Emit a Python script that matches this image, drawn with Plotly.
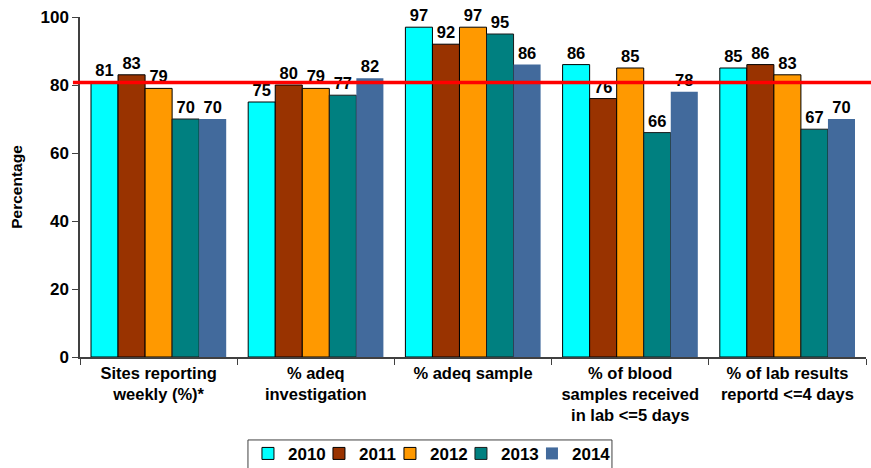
import plotly.graph_objects as go

categories = [
    "Sites reporting<br>weekly (%)*",
    "% adeq<br>investigation",
    "% adeq sample",
    "% of blood<br>samples received<br>in lab &lt;=5 days",
    "% of lab results<br>reportd &lt;=4 days",
]
years = ["2010", "2011", "2012", "2013", "2014"]
v2010 = [81, 75, 97, 86, 85]
v2011 = [83, 80, 92, 76, 86]
v2012 = [79, 79, 97, 85, 83]
v2013 = [70, 77, 95, 66, 67]
v2014 = [70, 82, 86, 78, 70]
target = 80.7

series = [v2010, v2011, v2012, v2013, v2014]
colors = ["#00FFFF", "#993300", "#FF9900", "#008080", "#426A9C"]
outline = ["#000000", "#000000", "#000000", "#1a1a1a", "#426A9C"]
owidth = [1, 1, 1, 1, 0]

FONT = "Liberation Sans, Arial, sans-serif"

fig = go.Figure()
for yr, vals, c, oc, ow in zip(years, series, colors, outline, owidth):
    fig.add_trace(go.Bar(
        name=yr, x=categories, y=vals,
        marker=dict(color=c, line=dict(color=oc, width=ow)),
        text=[str(v) for v in vals], textposition="outside",
        textfont=dict(family=FONT, size=16.5, color="black", weight="bold"),
        cliponaxis=False,
    ))

# invisible spacer entry so the last legend label is not clipped
fig.add_trace(go.Scatter(x=[categories[0]], y=[None], mode="markers",
                         marker=dict(color="rgba(0,0,0,0)", size=1, opacity=0,
                                     line=dict(width=0, color="rgba(0,0,0,0)")),
                         name=" ", showlegend=True, hoverinfo="skip"))

# target line
fig.add_shape(type="line", xref="paper", yref="y",
              x0=-0.009, x1=1.01, y0=target, y1=target,
              line=dict(color="#FF0000", width=3.5), layer="above")
# legend frame
fig.add_shape(type="rect", xref="paper", yref="paper",
              x0=0.2137, x1=0.6768, y0=-0.244, y1=-0.40,
              line=dict(color="#404040", width=1), fillcolor="rgba(0,0,0,0)", layer="above")

fig.update_layout(
    width=871, height=468,
    margin=dict(l=80, r=5, t=17, b=111, autoexpand=False),
    plot_bgcolor="white", paper_bgcolor="white",
    barmode="group", bargap=0.14, bargroupgap=0,
    font=dict(family=FONT, color="black"),
    showlegend=True,
    legend=dict(
        orientation="h", x=0.2137, xanchor="left", y=-0.232, yanchor="top",
        font=dict(family=FONT, size=17, color="black", weight="bold"),
        borderwidth=0, bgcolor="rgba(0,0,0,0)",
        entrywidth=26, entrywidthmode="pixels",
        traceorder="normal",
    ),
    xaxis=dict(
        automargin=False,
        showline=True, linecolor="#404040", linewidth=1.5,
        ticks="outside", tickson="boundaries", ticklen=6, tickcolor="#404040",
        tickfont=dict(family=FONT, size=16.5, color="black", weight="bold"),
        showgrid=False,
    ),
    yaxis=dict(
        automargin=False,
        range=[0, 100], dtick=20, showline=True, linecolor="#404040", linewidth=1.5,
        ticks="outside", ticklen=6, tickcolor="#404040",
        tickfont=dict(family=FONT, size=17, color="black", weight="bold"),
        showgrid=False, zeroline=False,
        title=dict(text="Percentage", font=dict(family=FONT, size=15.5, color="black", weight="bold"), standoff=14),
    ),
)

fig.write_html("out.html", config={"displayModeBar": False},
               post_script="document.body.style.margin='0px';document.body.style.overflow='hidden';")
